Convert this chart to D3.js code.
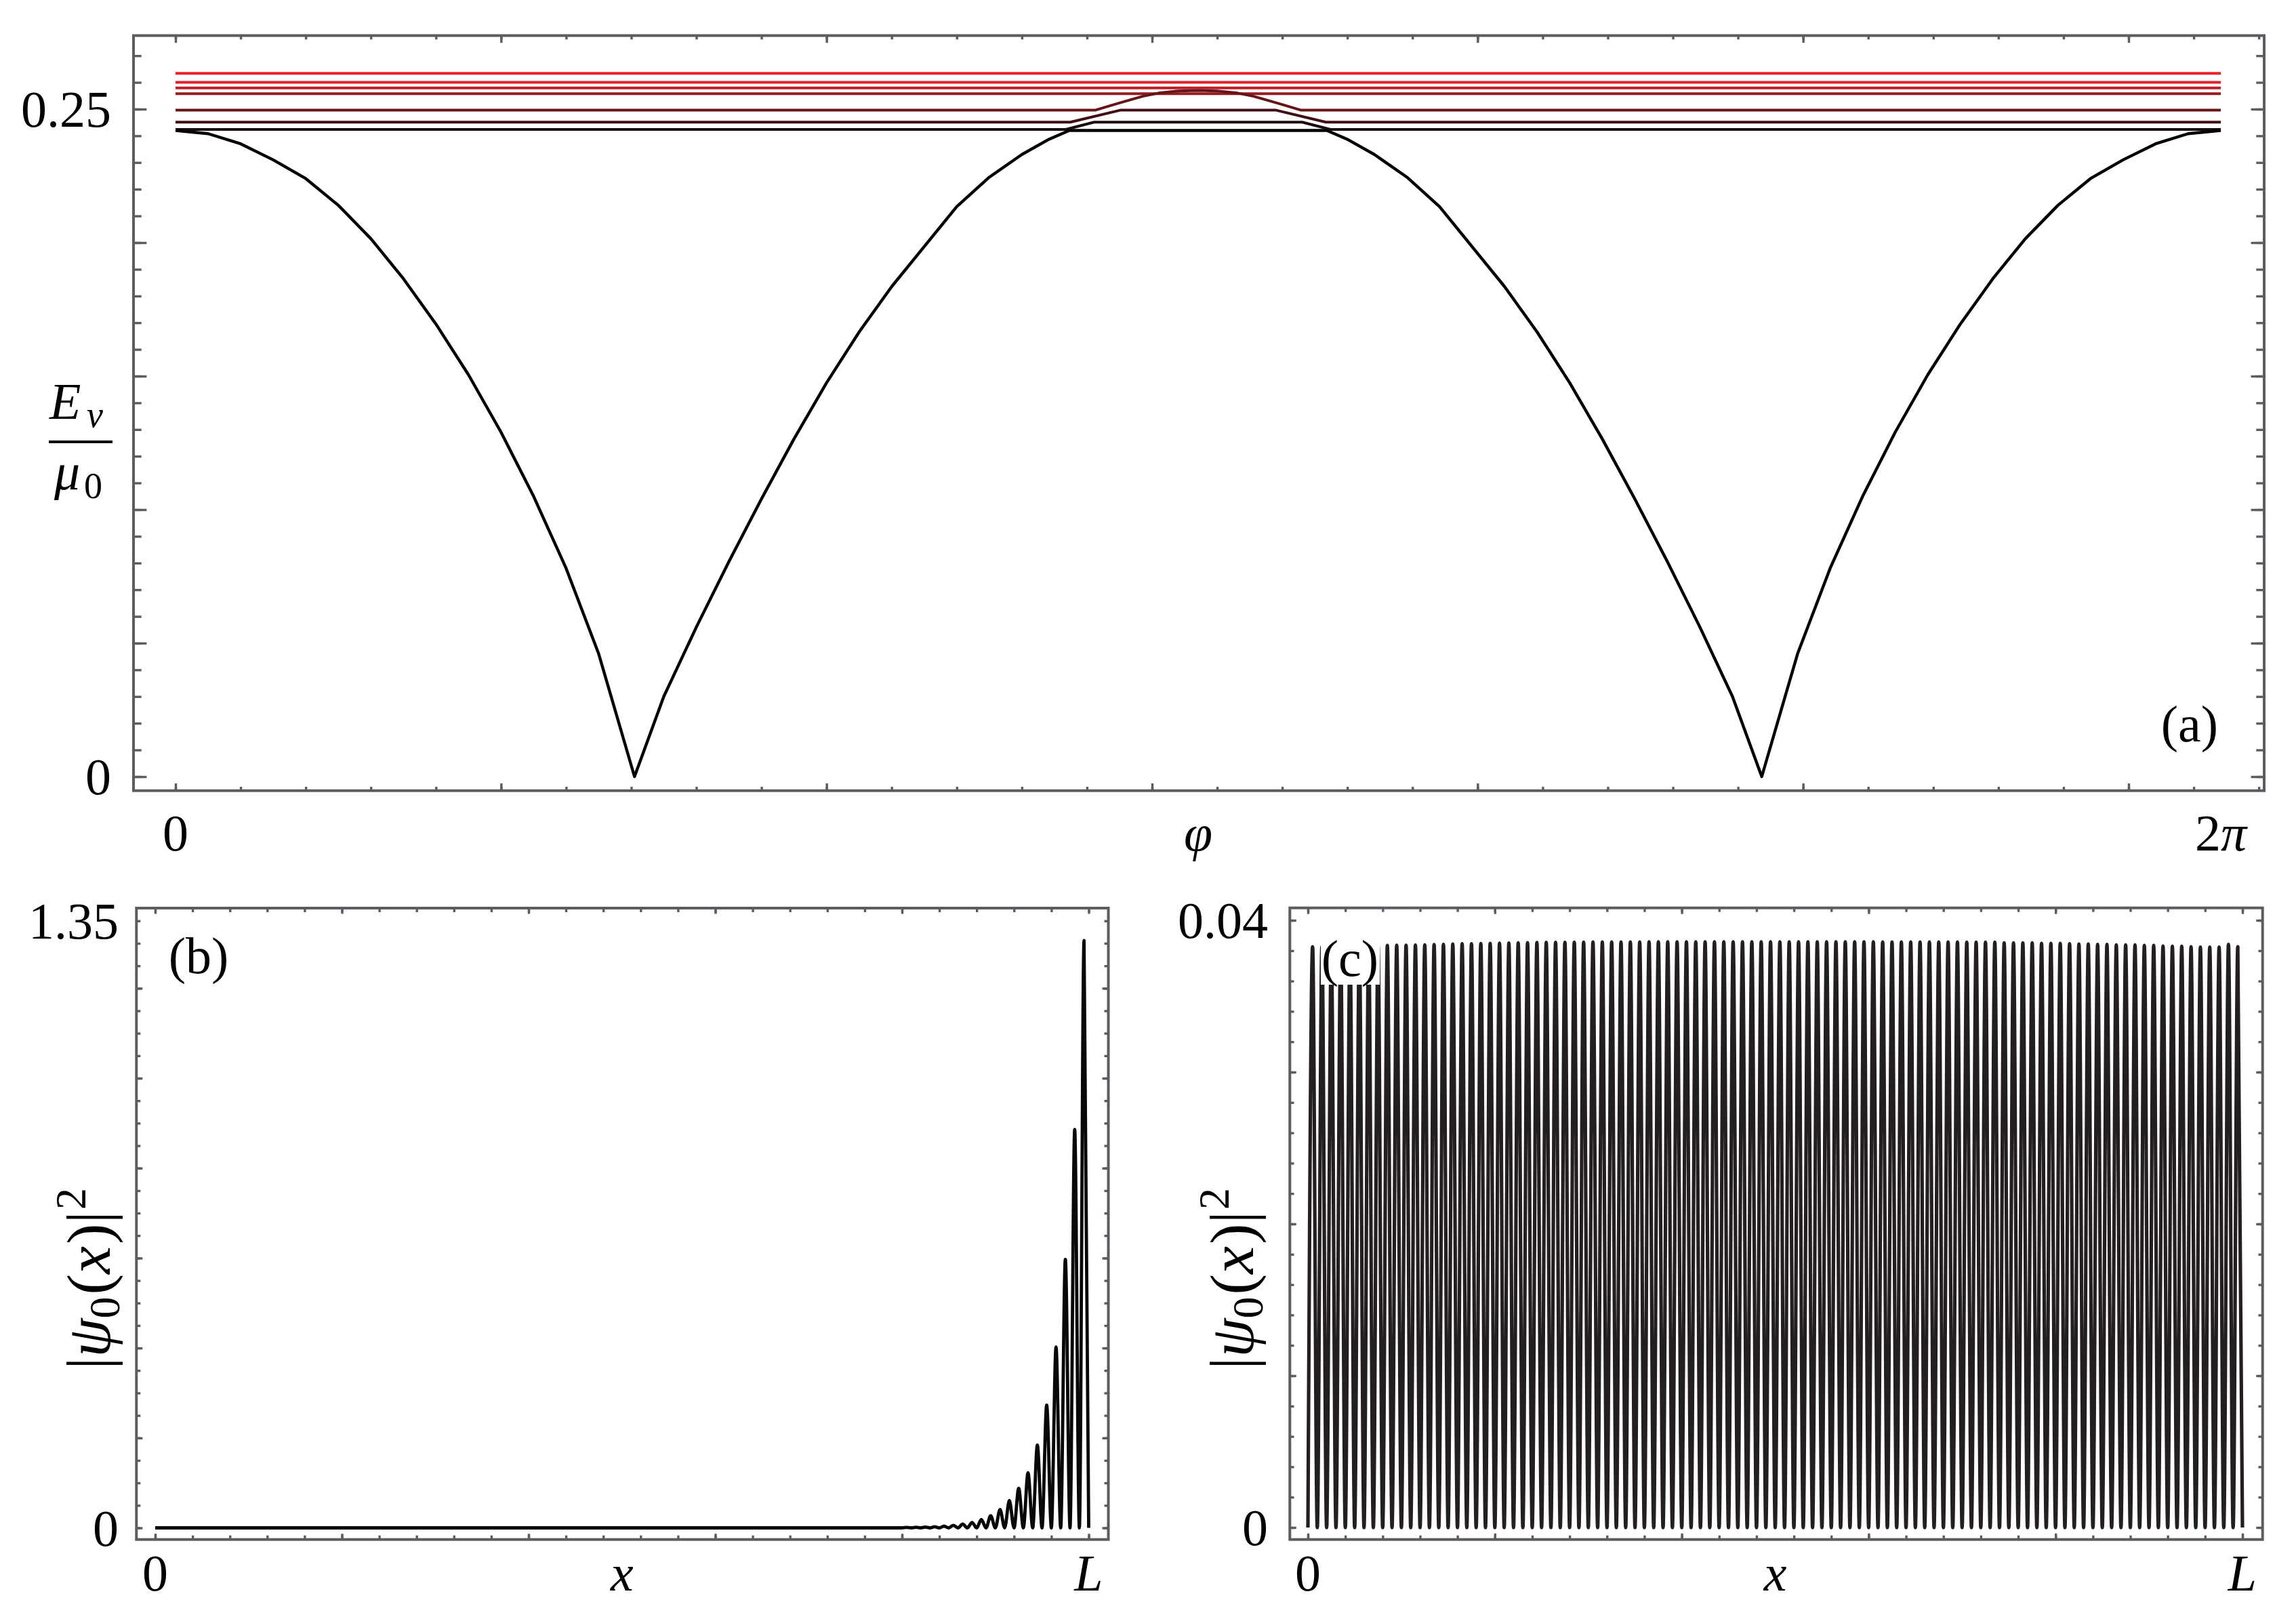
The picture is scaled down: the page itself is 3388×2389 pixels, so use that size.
<!DOCTYPE html>
<html><head><meta charset="utf-8">
<script src="https://cdn.jsdelivr.net/npm/d3@7"></script>
<style>
html,body{margin:0;padding:0;background:#fff;}
svg{display:block;}
text{font-family:"Liberation Serif","Times New Roman",serif;fill:#000;}
</style></head><body>
<svg id="chart" width="3388" height="2389"></svg>
<script>
const TAU = 2 * Math.PI;

// ---------- panel (a): levels E_nu / mu0 versus phi ----------
const band0 = [
  [0.00,0.2420],[0.10,0.2408],[0.20,0.2370],[0.30,0.2310],[0.40,0.2240],[0.50,0.2140],[0.60,0.2015],
  [0.70,0.1865],[0.80,0.1695],[0.90,0.1505],[1.00,0.1290],[1.10,0.1050],[1.20,0.0780],[1.30,0.0460],
  [1.41,0.0000],
  [1.50,0.0300],[1.60,0.0560],[1.70,0.0805],[1.80,0.1040],[1.90,0.1265],[2.00,0.1475],[2.10,0.1665],
  [2.20,0.1835],[2.30,0.1985],[2.40,0.2135],[2.50,0.2245],[2.60,0.2330],[2.68,0.2385],[2.746,0.2420],
  [3.537,0.2420],[3.603,0.2385],[3.683,0.2330],[3.783,0.2245],[3.883,0.2135],[3.983,0.1985],[4.083,0.1835],
  [4.183,0.1665],[4.283,0.1475],[4.383,0.1265],[4.483,0.1040],[4.583,0.0805],[4.683,0.0560],[4.783,0.0300],
  [4.873,0.0000],
  [4.983,0.0460],[5.083,0.0780],[5.183,0.1050],[5.283,0.1290],[5.383,0.1505],[5.483,0.1695],[5.583,0.1865],
  [5.683,0.2015],[5.783,0.2140],[5.883,0.2240],[5.983,0.2310],[6.083,0.2370],[6.183,0.2408],[6.2832,0.2420]
];
const band1 = [[0,0.2424],[2.735,0.2424],[2.822,0.2451],[3.461,0.2451],[3.548,0.2424],[6.2832,0.2424]];
const band2 = [[0,0.2451],[2.749,0.2451],[2.902,0.2496],[3.381,0.2496],[3.534,0.2451],[6.2832,0.2451]];
const band3 = [[0,0.2496],[2.825,0.2496],[2.90,0.2523],[2.971,0.2548],[3.02,0.2560],[3.08,0.2568],
  [3.1416,0.2570],[3.20,0.2568],[3.263,0.2560],[3.312,0.2548],[3.383,0.2523],[3.458,0.2496],[6.2832,0.2496]];
const flatLevels = [0.2558, 0.2579, 0.2600, 0.2634];           // nu = 4..7
const levelColors = ["#000000","#1a0b0d","#3e0e13","#66141a","#941b22","#be1e26","#e31f28","#ed2129"];

const aXTickVals = [0, Math.PI, TAU];
const aXTickText = [[["0",0]],[["φ",1]],[["2",0],["π",1]]];
const aYTickVals = [0, 0.25];
const aYTickText = ["0", "0.25"];

// ---------- panel (b): |psi0(x)|^2, localized state ----------
const bFirstHump = 81;  // humps k = 81..100, peak at (k-0.5)/100 L
const bPeaks = [0.0008,0.0012,0.0018,0.0026,0.0038,0.0056,0.0086,0.0120,0.0185,0.0270,
                0.0407,0.0607,0.0880,0.1225,0.1840,0.2730,0.4020,0.5970,0.8860,1.3060];
const bYTickVals = [0, 1.35];
const bYTickText = ["0", "1.35"];

// ---------- panel (c): |psi0(x)|^2, extended state (100 humps) ----------
const cPeaks = [
  0.03826,0.03828,0.03829,0.03830,0.03831,0.03832,0.03833,0.03834,0.03834,0.03835,
  0.03836,0.03837,0.03838,0.03840,0.03841,0.03843,0.03845,0.03846,0.03847,0.03848,
  0.03849,0.03850,0.03851,0.03852,0.03853,0.03854,0.03855,0.03855,0.03856,0.03856,
  0.03857,0.03857,0.03857,0.03857,0.03857,0.03857,0.03858,0.03858,0.03858,0.03858,
  0.03858,0.03858,0.03858,0.03858,0.03858,0.03858,0.03858,0.03858,0.03858,0.03858,
  0.03858,0.03858,0.03858,0.03858,0.03858,0.03858,0.03858,0.03858,0.03858,0.03858,
  0.03858,0.03857,0.03857,0.03857,0.03857,0.03857,0.03857,0.03857,0.03857,0.03857,
  0.03856,0.03856,0.03856,0.03856,0.03851,0.03851,0.03851,0.03851,0.03848,0.03848,
  0.03848,0.03845,0.03843,0.03843,0.03841,0.03841,0.03838,0.03838,0.03838,0.03834,
  0.03834,0.03830,0.03829,0.03829,0.03826,0.03823,0.03823,0.03823,0.03841,0.03826
];
const cYTickVals = [0, 0.04];
const cYTickText = ["0", "0.04"];
const xTickVals = [0, 0.5, 1];
const xTickText = [[["0",0]],[["x",1]],[["L",1]]];

// ---------- drawing ----------
const svg = d3.select("#chart");
svg.append("rect").attr("width",3388).attr("height",2389).attr("fill","#fff");
const FRAME = "#5b5d60";

function rich(g, x, y, parts, anchor, size) {
  const t = g.append("text").attr("x", x).attr("y", y).attr("text-anchor", anchor)
    .attr("font-size", size || 76);
  parts.forEach(p => {
    const s = t.append("tspan").text(p[0]);
    if (p[1]) s.attr("font-style", "italic");
  });
  return t;
}

function ticks(g, frame, xs, ys, xMaj, xMin, yMaj, yMin, xLen, yLen) {
  const [x0, y0, x1, y1] = frame;
  const style = sel => {
    sel.select(".domain").remove();
    sel.selectAll(".tick line").attr("stroke", FRAME).attr("stroke-width", 3.4);
    sel.selectAll(".tick text").remove();
  };
  [[xMin, xLen[1]], [xMaj, xLen[0]]].forEach(([vals, len]) => {
    g.append("g").attr("transform", `translate(0,${y1})`)
      .call(d3.axisBottom(xs).tickValues(vals).tickSize(-len).tickFormat("")).call(style);
    g.append("g").attr("transform", `translate(0,${y0})`)
      .call(d3.axisTop(xs).tickValues(vals).tickSize(-len).tickFormat("")).call(style);
  });
  [[yMin, yLen[1]], [yMaj, yLen[0]]].forEach(([vals, len]) => {
    g.append("g").attr("transform", `translate(${x0},0)`)
      .call(d3.axisLeft(ys).tickValues(vals).tickSize(-len).tickFormat("")).call(style);
    g.append("g").attr("transform", `translate(${x1},0)`)
      .call(d3.axisRight(ys).tickValues(vals).tickSize(-len).tickFormat("")).call(style);
  });
  g.append("rect").attr("x", x0).attr("y", y0).attr("width", x1 - x0).attr("height", y1 - y0)
    .attr("fill", "none").attr("stroke", FRAME).attr("stroke-width", 4);
}

// ===== panel (a) =====
{
  const frame = [197, 52.5, 3341, 1166.7];
  const xs = d3.scaleLinear().domain([0, 6]).range([259, 3141]);
  const ys = d3.scaleLinear().domain([0, 0.25]).range([1146, 161]);
  const g = svg.append("g");
  const line = d3.line().x(d => xs(d[0])).y(d => ys(d[1]));
  const curves = [band0, band1, band2, band3].concat(flatLevels.map(v => [[0, v], [TAU, v]]));
  for (let i = curves.length - 1; i >= 0; i--) {
    g.append("path").attr("d", line(curves[i])).attr("fill", "none")
      .attr("stroke", levelColors[i]).attr("stroke-width", i === 0 ? 4.4 : 4).attr("stroke-linejoin", "round");
  }
  ticks(g, frame, xs, ys,
    d3.range(0, 7), d3.range(0, 33).map(i => i * 0.2),
    d3.range(0, 6).map(i => i * 0.05), d3.range(0, 28).map(i => i * 0.01),
    [10.7, 5.7], [19.4, 11.7]);
  aXTickVals.forEach((v, i) => rich(g, xs(v), 1255, aXTickText[i], "middle"));
  aYTickVals.forEach((v, i) => rich(g, 164, ys(v) + 26, [[aYTickText[i], 0]], "end"));
  rich(g, 3231, 1094, [["(a)", 0]], "middle");
  // axis label E_nu / mu_0
  rich(g, 73, 618, [["E", 1]], "start");
  rich(g, 128, 630, [["ν", 1]], "start", 54);
  g.append("line").attr("x1", 72).attr("x2", 166).attr("y1", 652).attr("y2", 652)
    .attr("stroke", "#000").attr("stroke-width", 4);
  rich(g, 80, 722, [["μ", 1]], "start");
  rich(g, 124, 735, [["0", 0]], "start", 54);
}

function humpPoints(first, peaks, lead) {
  const pts = lead.slice();
  peaks.forEach((h, i) => {
    const k = first + i;
    pts.push([(k - 0.5) / 100, h]);
    pts.push([k / 100, 0]);
  });
  return pts;
}

function psiLabel(g, cx, cy) {
  const t = g.append("text").attr("transform", `translate(${cx},${cy}) rotate(-90)`)
    .attr("text-anchor", "middle").attr("font-size", 92);
  t.append("tspan").text("|");
  t.append("tspan").text("ψ").attr("font-style", "italic");
  t.append("tspan").text("0").attr("font-size", 64).attr("dy", 14);
  t.append("tspan").text("(").attr("dy", -14).attr("dx", 3);
  t.append("tspan").text("x").attr("font-style", "italic");
  t.append("tspan").text(")").attr("dx", 3);
  t.append("tspan").text("|");
  t.append("tspan").text("2").attr("font-size", 64).attr("dy", -36).attr("dx", 2);
}

// ===== panel (b) =====
{
  const frame = [201.3, 1340, 1635.5, 2271.7];
  const xs = d3.scaleLinear().domain([0, 1]).range([229, 1606.5]);
  const ys = d3.scaleLinear().domain([0, 1.2]).range([2254.5, 1458.3]);
  const g = svg.append("g");
  const pts = humpPoints(bFirstHump, bPeaks, [[0, 0], [(bFirstHump - 1) / 100, 0]]);
  g.append("path").attr("d", d3.line().x(d => xs(d[0])).y(d => ys(d[1])).curve(d3.curveMonotoneX)(pts))
    .attr("fill", "none").attr("stroke", "#070807").attr("stroke-width", 4.8).attr("stroke-linejoin", "round");
  ticks(g, frame, xs, ys,
    d3.range(0, 6).map(i => i * 0.2), d3.range(0, 26).map(i => i * 0.04),
    d3.range(0, 7).map(i => i * 0.2), d3.range(0, 28).map(i => i * 0.05),
    [8.5, 6], [9, 6]);
  xTickVals.forEach((v, i) => rich(g, xs(v), 2347, xTickText[i], "middle"));
  bYTickVals.forEach((v, i) => rich(g, 175, ys(v) + 26, [[bYTickText[i], 0]], "end"));
  rich(g, 293, 1436, [["(b)", 0]], "middle");
  psiLabel(g, 162, 1887);
}

// ===== panel (c) =====
{
  const frame = [1903.3, 1339.7, 3338.7, 2271.7];
  const xs = d3.scaleLinear().domain([0, 1]).range([1930, 3309]);
  const ys = d3.scaleLinear().domain([0, 0.04]).range([2254, 1358]);
  const g = svg.append("g");
  const pts = humpPoints(1, cPeaks, [[0, 0]]);
  g.append("path").attr("d", d3.line().x(d => xs(d[0])).y(d => ys(d[1])).curve(d3.curveMonotoneX)(pts))
    .attr("fill", "none").attr("stroke", "#231f20").attr("stroke-width", 5.2).attr("stroke-linejoin", "round");
  ticks(g, frame, xs, ys,
    d3.range(0, 6).map(i => i * 0.2), d3.range(0, 26).map(i => i * 0.04),
    d3.range(0, 5).map(i => i * 0.01), d3.range(0, 21).map(i => i * 0.002),
    [9, 6], [9.5, 6.2]);
  xTickVals.forEach((v, i) => rich(g, xs(v), 2347, xTickText[i], "middle"));
  cYTickVals.forEach((v, i) => rich(g, 1871, ys(v) + 26, [[cYTickText[i], 0]], "end"));
  g.append("rect").attr("x", 1949).attr("y", 1362).attr("width", 87).attr("height", 91).attr("fill", "#fff");
  rich(g, 1992, 1440, [["(c)", 0]], "middle");
  psiLabel(g, 1849, 1887);
}
</script>
</body></html>
